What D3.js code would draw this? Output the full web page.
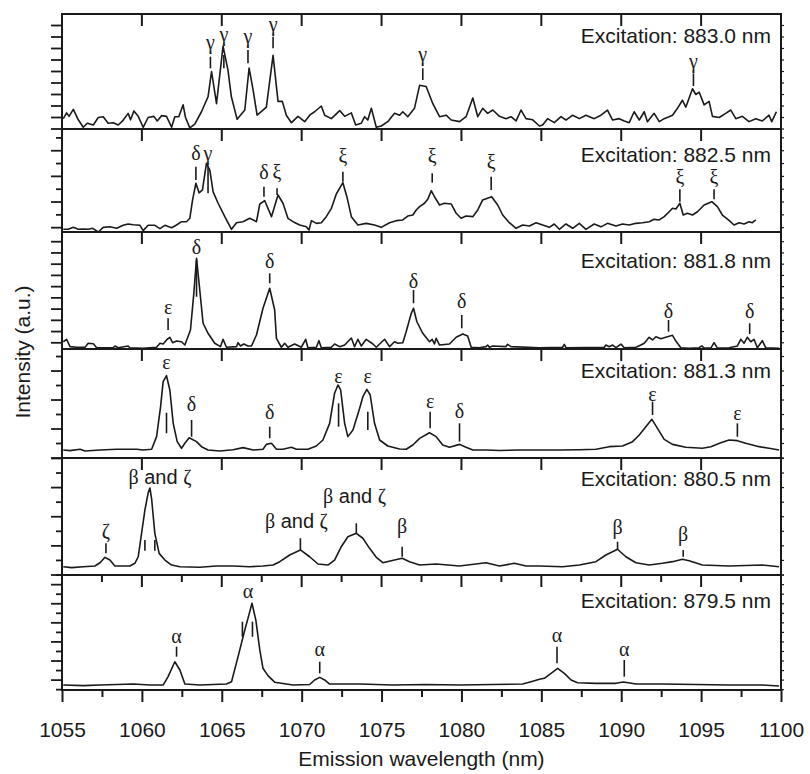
<!DOCTYPE html>
<html>
<head>
<meta charset="utf-8">
<script src="https://cdn.jsdelivr.net/npm/d3@7"></script>
<style>
  body { margin: 0; background: #fff; }
  svg { display: block; }
</style>
</head>
<body>
<div id="chart"></div>
<script>
// emission spectra, relative intensity (0-100 = panel height) vs wavelength (nm)
const excitations = ["883.0", "882.5", "881.8", "881.3", "880.5", "879.5"]

const spec883_0 = [[1055.08,9],[1055.29,14],[1055.44,11],[1055.71,17],[1056.02,8],[1056.33,1.5],[1056.58,5],[1056.96,3.5],[1057.27,10],[1057.58,10.7],[1057.89,5],[1058.21,5.5],[1058.52,3.5],[1058.79,7],[1059.14,13.6],[1059.29,8],[1059.5,15.7],[1059.77,11],[1060.08,1.5],[1060.39,10],[1060.75,11],[1060.96,7],[1061.23,11.6],[1061.54,11],[1061.86,1.5],[1062.06,10.7],[1062.31,10.7],[1062.58,21],[1062.73,10],[1063.0,1],[1063.31,4.3],[1063.73,15],[1064.14,28],[1064.36,50],[1064.67,22],[1065.08,72],[1065.39,51],[1065.6,28],[1065.96,8.4],[1066.44,16.5],[1066.71,53],[1066.96,34],[1067.21,12],[1067.58,16.5],[1067.79,19],[1068.21,64],[1068.52,24],[1068.79,24],[1069.04,12],[1069.36,5.5],[1069.77,11],[1070.19,6.4],[1070.5,12],[1070.81,15],[1071.23,20],[1071.44,12],[1071.86,9],[1072.38,16],[1072.69,11],[1073.11,14],[1073.38,3.5],[1073.73,5],[1073.94,10.7],[1074.14,7.8],[1074.36,18],[1074.67,1.5],[1074.98,2.6],[1075.39,6.4],[1075.81,13.6],[1076.13,12],[1076.33,15],[1076.64,10.7],[1077.06,18],[1077.38,38],[1077.79,37],[1078.21,22],[1078.63,10.7],[1079.04,12],[1079.36,7.8],[1079.88,6.4],[1080.29,10.7],[1080.71,27],[1081.02,10.7],[1081.33,18],[1081.64,13.6],[1081.96,16.5],[1082.38,11],[1082.79,9],[1083.1,10.7],[1083.42,7],[1083.73,16.5],[1084.04,9],[1084.46,8],[1084.88,2.6],[1085.08,3.5],[1085.39,9],[1085.81,5.5],[1086.23,10.7],[1086.54,7.8],[1086.96,12],[1087.38,9],[1087.79,12],[1088.31,9],[1088.73,12],[1089.14,16.5],[1089.46,7.8],[1089.88,9],[1090.19,7],[1090.5,5.5],[1090.81,15],[1091.13,7.8],[1091.44,15],[1091.64,6.4],[1092.06,13.6],[1092.38,6.4],[1092.69,9],[1093.0,10.7],[1093.21,12],[1093.52,18],[1093.83,25],[1094.04,19],[1094.25,27],[1094.46,35],[1094.67,30],[1094.88,32],[1095.19,21],[1095.5,24],[1095.71,11],[1096.13,10],[1096.54,13.6],[1096.86,16.5],[1097.17,9],[1097.58,11],[1098.0,6.4],[1098.42,9],[1098.83,7],[1099.25,12],[1099.42,6.4],[1099.71,15]]

const spec882_5 = [[1055.08,2.6],[1055.39,2.6],[1055.71,4.5],[1056.02,2.6],[1056.33,2.9],[1056.64,2.6],[1056.92,3.6],[1057.27,0],[1057.58,4.5],[1058.0,5.1],[1058.42,3.6],[1058.83,6.5],[1059.14,7.8],[1059.46,7.1],[1059.88,6.5],[1060.08,1.3],[1060.39,6.5],[1060.81,6.5],[1061.13,3.2],[1061.44,6.5],[1061.86,4.2],[1062.17,6.8],[1062.48,10],[1062.79,10],[1063.0,13.3],[1063.17,31],[1063.38,47.3],[1063.58,38],[1063.79,40.8],[1064.04,66.7],[1064.25,60.2],[1064.46,39],[1064.77,27.9],[1065.19,14.9],[1065.61,2.6],[1065.92,9],[1066.33,10],[1066.75,13.3],[1067.17,10],[1067.38,27.2],[1067.69,30.4],[1068.11,14.9],[1068.52,35.9],[1068.83,27.9],[1069.14,13.3],[1069.46,10],[1069.88,6.8],[1070.29,5.1],[1070.46,1.9],[1070.61,11],[1070.92,8.4],[1071.23,9],[1071.54,14.9],[1071.86,23],[1072.17,36.9],[1072.58,47.9],[1072.83,34.3],[1073.11,14.9],[1073.52,6.8],[1074.04,8.4],[1074.56,6.8],[1074.98,4.5],[1075.5,9],[1075.92,11],[1076.33,11.7],[1076.64,15.5],[1076.96,16.5],[1077.17,21.4],[1077.38,24.6],[1077.69,27.9],[1077.89,31.7],[1078.11,40.1],[1078.31,34.3],[1078.63,26.2],[1078.94,27.9],[1079.36,27.2],[1079.67,18.2],[1079.98,13.3],[1080.29,15.5],[1080.71,14.9],[1081.02,21.4],[1081.33,31.1],[1081.89,34.3],[1082.27,26.2],[1082.58,16.5],[1083.0,9],[1083.42,3.6],[1083.83,6.8],[1084.25,5.8],[1084.67,9],[1085.08,6.8],[1085.5,4.5],[1085.81,7.8],[1086.13,2.6],[1086.54,7.8],[1086.96,3.6],[1087.38,8.4],[1087.79,2.6],[1088.31,7.8],[1088.73,5],[1089.14,8.4],[1089.67,5.8],[1090.08,7.8],[1090.5,6.8],[1090.92,8.4],[1091.33,9],[1091.75,10],[1092.06,12.3],[1092.38,11.7],[1092.69,14.9],[1093.0,19.7],[1093.21,23],[1093.42,22.3],[1093.67,27.9],[1093.88,16.5],[1094.14,18.2],[1094.46,16.5],[1094.77,19.7],[1095.19,26.2],[1095.67,29.4],[1096.02,24.6],[1096.33,16.5],[1096.71,11.7],[1097.06,6.8],[1097.38,9],[1097.69,7.8],[1098.0,10],[1098.21,9],[1098.42,11.7]]

const spec881_8 = [[1055.08,6.2],[1055.29,8.3],[1055.5,2],[1055.92,1.5],[1056.44,1.5],[1056.64,4.9],[1056.96,4.5],[1057.17,1.1],[1058.21,1.1],[1058.31,2.6],[1058.52,1.1],[1059.14,2.6],[1059.25,1.1],[1060.08,0.6],[1060.92,1.5],[1061.13,4.9],[1061.33,4.3],[1061.54,7.7],[1061.75,10],[1061.92,5.4],[1062.17,6.8],[1062.48,6.2],[1062.69,3.4],[1063.04,16.2],[1063.25,47.6],[1063.42,77.5],[1063.58,56.2],[1063.83,22],[1064.14,13.4],[1064.56,4.9],[1064.92,2],[1065.08,8.3],[1065.29,1.5],[1065.92,2],[1066.02,5.4],[1066.17,2.6],[1066.38,4.3],[1066.64,2.6],[1066.86,2.6],[1067.17,12],[1067.58,34.8],[1068.0,51.9],[1068.31,33.3],[1068.42,9.1],[1068.73,1.5],[1068.94,4.9],[1069.14,1.5],[1069.56,4.3],[1069.98,1.5],[1070.25,8.3],[1070.39,1.1],[1070.92,1.5],[1071.08,7.1],[1071.23,1.1],[1071.86,1.5],[1072.06,4.3],[1072.38,2],[1072.69,3.4],[1073.11,9.4],[1073.31,2],[1073.52,8.3],[1073.73,2.6],[1074.04,8.3],[1074.46,4.3],[1074.67,1.5],[1075.19,8.3],[1075.5,2],[1075.81,6.2],[1076.02,4.9],[1076.33,5.4],[1076.54,14.8],[1076.86,30.5],[1077.0,34.8],[1077.21,23.3],[1077.58,13.4],[1078.0,6.2],[1078.17,8.3],[1078.31,4.3],[1078.42,9.1],[1078.63,3.4],[1079.25,4.3],[1079.67,10],[1080.08,12.8],[1080.39,11.1],[1080.61,1.5],[1081.13,1.1],[1081.54,2],[1081.64,3.4],[1081.75,1.5],[1081.96,2.6],[1082.79,2],[1082.89,4],[1083.1,2],[1084.88,1.1],[1086.33,1.5],[1086.44,4],[1086.54,1.1],[1088.94,1.5],[1089.04,3.4],[1089.25,2],[1089.46,3.4],[1089.67,1.1],[1089.98,4.2],[1090.19,1.1],[1090.92,1.5],[1091.23,3.4],[1091.44,4.9],[1091.75,10],[1091.96,7.7],[1092.17,10.5],[1092.48,8.8],[1092.79,10],[1093.21,11.7],[1093.42,6.8],[1093.73,1.1],[1094.25,0.6],[1094.88,1.1],[1095.04,2.6],[1095.19,0.8],[1095.61,0.8],[1095.81,5.4],[1096.02,0.8],[1096.75,1.1],[1097.06,2],[1097.27,2.6],[1097.48,8.3],[1097.69,5],[1097.89,10],[1098.11,6.2],[1098.31,8.3],[1098.52,1.1],[1098.83,7.1],[1099.04,1.1],[1099.88,0.5]]

const spec881_3 = [[1055.08,7.3],[1055.5,6.8],[1056.13,8],[1056.44,6.4],[1057.38,7.3],[1058.42,8],[1059.67,8],[1060.08,7.3],[1060.61,8],[1060.92,19.6],[1061.17,47.1],[1061.33,70],[1061.54,75.5],[1061.75,62.4],[1061.96,31.8],[1062.21,15],[1062.48,8.9],[1062.69,13.5],[1062.96,18.6],[1063.42,15],[1063.73,10.4],[1064.14,7.3],[1064.88,6.4],[1065.71,7.6],[1066.33,9.5],[1066.96,7.3],[1067.58,8],[1067.79,12.5],[1068.11,13.5],[1068.42,8],[1068.83,8],[1069.36,9.8],[1069.67,8],[1070.39,8],[1070.92,11],[1071.33,16.5],[1071.75,31.8],[1072.06,59.4],[1072.27,67],[1072.44,62.4],[1072.69,31.8],[1072.89,19.6],[1073.21,25.7],[1073.63,45.6],[1073.83,56.2],[1074.08,63],[1074.29,57.8],[1074.56,31.8],[1074.88,16.5],[1075.39,11],[1076.13,8.3],[1076.54,8],[1076.96,11.9],[1077.38,18],[1078.0,23.2],[1078.42,19.6],[1078.83,11.9],[1079.25,9.8],[1079.88,12.5],[1080.29,9.8],[1080.71,7.3],[1081.54,7.3],[1082.38,6.9],[1083.63,7.3],[1084.88,7.3],[1086.13,7.3],[1087.38,7.6],[1088.42,8],[1089.25,10.4],[1090.08,11],[1090.71,15],[1091.13,21.1],[1091.54,28.7],[1091.92,35.5],[1092.27,27.2],[1092.69,17.1],[1093.21,12.5],[1094.04,9.8],[1095.08,8.9],[1095.61,10.4],[1096.23,14],[1096.75,16.5],[1097.27,15.9],[1097.79,13.5],[1098.63,10.4],[1099.25,8.9],[1099.88,7.3]]

const spec880_5 = [[1055.08,7.1],[1055.61,6.3],[1056.33,7.1],[1057.06,7.7],[1057.38,10.5],[1057.69,15.1],[1058.0,12.8],[1058.31,7.7],[1059.25,7.7],[1059.56,10],[1059.77,15.6],[1059.98,35.6],[1060.19,55.6],[1060.39,70],[1060.5,74.4],[1060.61,65],[1060.81,35.6],[1061.08,18.5],[1061.44,12.8],[1061.86,8.5],[1062.38,7.1],[1063.63,6.6],[1064.67,7.7],[1065.71,7.7],[1066.75,7.1],[1067.58,7.7],[1068.21,8.5],[1068.63,11.4],[1069.25,17.1],[1069.92,21.4],[1070.5,15.6],[1071.02,9.4],[1071.64,8.5],[1072.06,12.8],[1072.48,24.2],[1072.89,32.7],[1073.42,35.6],[1073.83,31.4],[1074.25,22.8],[1074.67,15.1],[1075.08,10.5],[1075.61,12.2],[1076.29,14.3],[1076.75,11.4],[1077.38,8.5],[1078.42,9.4],[1079.88,7.7],[1081.54,10.5],[1082.38,7.7],[1083.31,10],[1084.04,7.7],[1084.88,7.7],[1086.33,7.1],[1087.38,8.5],[1088.42,11.4],[1089.04,17.1],[1089.77,22],[1090.29,15.6],[1090.92,10.5],[1091.75,8.5],[1092.58,10],[1093.21,11.4],[1093.83,13.4],[1094.25,12.2],[1095.08,8.5],[1096.75,7.7],[1098.83,8.5],[1099.88,7.1]]

const spec879_5 = [[1055.08,4.3],[1056.33,3.8],[1057.38,4.3],[1059.46,5.2],[1060.5,4.3],[1061.33,4.3],[1061.64,11.6],[1062.06,24.6],[1062.38,17.4],[1062.69,5.2],[1063.63,4.3],[1065.29,5.2],[1065.61,7.2],[1066.02,29],[1066.44,52.2],[1066.64,62.3],[1066.89,75.4],[1067.13,60.9],[1067.38,34.8],[1067.58,18.9],[1067.89,12.5],[1068.31,6.8],[1069.46,4.3],[1070.5,4.8],[1070.81,8.7],[1071.13,11],[1071.44,8.7],[1071.75,5.2],[1073.63,5.2],[1075.71,4.3],[1077.79,4.8],[1079.88,4.3],[1081.96,4.8],[1083.83,5.2],[1084.36,7.2],[1084.88,9.3],[1085.19,10.2],[1085.61,14.5],[1086.02,18.9],[1086.44,14.5],[1086.86,8.7],[1087.27,6.3],[1088.42,5.8],[1089.67,5.8],[1090.14,7],[1090.92,5.2],[1092.58,5.2],[1094.67,4.8],[1096.75,4.3],[1098.83,4.3],[1099.88,3.5]]

// site labels: [wavelength, intensity of label centre, text]
const tags883_0 = [[1064.29,74.8,"γ"],[1065.13,81.7,"γ"],[1066.64,80.3,"γ"],[1068.21,90.4,"γ"],[1077.58,64.3,"γ"],[1094.52,58.5,"γ"]]
const tags882_5 = [[1063.38,75.7,"δ"],[1064.14,75.7,"γ"],[1067.64,57,"δ"],[1068.46,57,"ξ"],[1072.58,73.1,"ξ"],[1078.17,73.1,"ξ"],[1081.86,66.7,"ξ"],[1093.67,52.4,"ξ"],[1095.81,52.4,"ξ"]]
const tags881_8 = [[1061.64,34.8,"ε"],[1063.42,86.1,"δ"],[1068.0,74.6,"δ"],[1077.0,57.5,"δ"],[1080.02,40.4,"δ"],[1092.96,31.9,"δ"],[1098.04,31.9,"δ"]]
const tags881_3 = [[1061.54,87.4,"ε"],[1063.11,48.6,"δ"],[1068.0,41,"δ"],[1072.31,74.6,"ε"],[1074.14,74.6,"ε"],[1078.04,51.7,"ε"],[1079.88,42.5,"δ"],[1091.96,57.8,"ε"],[1097.27,40.4,"ε"]]
const tags880_5 = [[1057.75,37,"ζ"],[1061.13,82.6,"β and ζ"],[1069.67,45.6,"β and ζ"],[1073.31,66.9,"β and ζ"],[1076.29,41.3,"β"],[1089.77,39.9,"β"],[1093.88,34.2,"β"]]
const tags879_5 = [[1062.17,46.3,"α"],[1066.64,85.5,"α"],[1071.13,34.8,"α"],[1085.98,47,"α"],[1090.19,34.8,"α"]]

// label ticks: [wavelength, lower intensity, upper intensity]
const marks883_0 = [[1064.29,52.8,62.9],[1065.13,52.8,64.3],[1066.64,57.1,68.7],[1068.21,70.2,80.3],[1077.58,42.6,52.8],[1094.52,37.4,48.4]]
const marks882_5 = [[1063.38,50.5,63.4],[1064.14,37.6,64.4],[1067.64,34.3,44],[1068.46,35.9,42.4],[1072.58,48.8,58.5],[1078.17,47.9,57],[1081.86,40.8,53.7],[1093.67,29.4,41.5],[1095.81,31.7,41.5]]
const marks881_8 = [[1061.64,16.2,26.2],[1063.42,44.7,76.1],[1068.0,56.2,64.7],[1077.0,39.1,50.4],[1080.02,17.7,29.1],[1092.96,14.8,24.8],[1098.04,12.8,22]]
const marks881_3 = [[1061.54,22.7,41.6],[1063.11,19.5,34.9],[1068.0,18.1,28.7],[1072.31,28.7,50.2],[1074.14,25.7,42.5],[1078.04,27.2,42.5],[1079.88,15,31.8],[1091.96,39.4,51.7],[1097.27,19.5,31.8]]
const marks880_5 = [[1057.75,18.5,27.1],[1060.19,20.8,29.9],[1060.81,20.8,29.9],[1069.92,21.4,31.4],[1073.42,35.6,44.2],[1076.29,15.6,24.2],[1089.77,21.4,28.5],[1093.88,15.6,21.4]]
const marks879_5 = [[1062.17,29,37.7],[1066.29,46.3,59.4],[1066.92,46.3,59.4],[1071.13,14.5,24.6],[1085.98,23.2,37.7],[1090.19,11.6,26.1]]

const xTicks = d3.range(1055, 1101, 5)
const xMinor = d3.range(1057.5, 1100, 5)

const spectra = [spec883_0, spec882_5, spec881_8, spec881_3, spec880_5, spec879_5]
const tags = [tags883_0, tags882_5, tags881_8, tags881_3, tags880_5, tags879_5]
const marks = [marks883_0, marks882_5, marks881_8, marks881_3, marks880_5, marks879_5]

// layout
const width = 810, height = 774
const left = 62, right = 781
const edges = [14, 129, 232, 349, 458, 575, 690]
const labelDrop = [29, 33, 36, 29, 28, 33]
// y tick layout per panel: start, step, which ticks are long
const yTickCfg = [
  {start: 0, step: 10, long: i => true},
  {start: 4.2, step: 12.45, long: i => i % 2 == 0},
  {start: 5.3, step: 9.6, long: i => true},
  {start: 0, step: 13.3, long: i => i % 2 == 0},
  {start: 0, step: 12.45, long: i => i % 2 == 0},
  {start: 0.3, step: 8.3, long: i => i % 2 == 1}
]

const ink = "#1a1a1a"
const sans = "'Liberation Sans', Arial, sans-serif"
const serif = "'Liberation Serif', 'Times New Roman', serif"

const svg = d3.select("#chart")
  .append("svg")
  .attr("width", width)
  .attr("height", height)

const x = d3.scaleLinear().domain([1055, 1100]).range([left, right])

spectra.forEach(function(spec, p) {
  const top = edges[p], bottom = edges[p + 1]
  const y = d3.scaleLinear().domain([0, 100]).range([bottom, top])
  const g = svg.append("g")

  // left ticks (outward)
  const cfg = yTickCfg[p]
  const vals = d3.range(cfg.start, 100, cfg.step)
  g.selectAll("line.yt")
    .data(vals)
    .join("line")
      .attr("class", "yt")
      .attr("x1", left)
      .attr("x2", (d, i) => left - (cfg.long(i) ? 11 : 6))
      .attr("y1", d => y(d))
      .attr("y2", d => y(d))
      .attr("stroke", ink)
      .attr("stroke-width", 1.8)
  // right ticks, tiny
  g.selectAll("line.yr")
    .data(vals)
    .join("line")
      .attr("class", "yr")
      .attr("x1", right)
      .attr("x2", right + 3)
      .attr("y1", d => y(d))
      .attr("y2", d => y(d))
      .attr("stroke", ink)
      .attr("stroke-width", 1.2)

  // x ticks on the top edge, pointing in
  const topTicks = p == 5 ? xTicks.concat(xMinor) : xTicks
  g.selectAll("line.xt")
    .data(topTicks)
    .join("line")
      .attr("class", "xt")
      .attr("x1", d => x(d))
      .attr("x2", d => x(d))
      .attr("y1", top)
      .attr("y2", d => top + (d % 5 == 0 ? 12 : 7))
      .attr("stroke", ink)
      .attr("stroke-width", 2)

  // spectrum
  const line = d3.line()
    .x(d => x(d[0]))
    .y(d => y(d[1]))
  g.append("path")
    .datum(spec)
    .attr("d", line)
    .attr("fill", "none")
    .attr("stroke", ink)
    .attr("stroke-width", 1.6)
    .attr("stroke-linejoin", "round")

  // label ticks
  g.selectAll("line.mk")
    .data(marks[p])
    .join("line")
      .attr("class", "mk")
      .attr("x1", d => x(d[0]))
      .attr("x2", d => x(d[0]))
      .attr("y1", d => y(d[1]))
      .attr("y2", d => y(d[2]))
      .attr("stroke", ink)
      .attr("stroke-width", 1.6)

  // greek labels
  const t = g.selectAll("text.tag")
    .data(tags[p])
    .join("text")
      .attr("class", "tag")
      .attr("x", d => x(d[0]))
      .attr("y", d => y(d[1]))
      .attr("dy", "0.3em")
      .attr("text-anchor", "middle")
      .attr("fill", ink)
      .style("font-family", serif)
      .style("font-size", "20px")
  t.each(function(d) {
    const el = d3.select(this)
    if (d[2].indexOf(" and ") > 0) {
      const parts = d[2].split(" and ")
      el.append("tspan").text(parts[0])
      el.append("tspan").style("font-family", sans).text(" and ")
      el.append("tspan").text(parts[1])
    } else {
      el.text(d[2])
    }
  })

  // excitation label
  g.append("text")
    .attr("x", 771)
    .attr("y", top + labelDrop[p])
    .attr("text-anchor", "end")
    .attr("fill", ink)
    .style("font-family", sans)
    .style("font-size", "21px")
    .text("Excitation: " + excitations[p] + " nm")

  // frame
  g.append("rect")
    .attr("x", left)
    .attr("y", top)
    .attr("width", right - left)
    .attr("height", bottom - top)
    .attr("fill", "none")
    .attr("stroke", ink)
    .attr("stroke-width", 2)
})

// bottom axis
const bottom = edges[6]
svg.append("g")
  .attr("transform", `translate(0,${bottom})`)
  .call(d3.axisBottom(x).tickValues(xMinor).tickSize(7).tickFormat(""))
  .call(g => g.select(".domain").remove())
  .call(g => g.selectAll("line").attr("stroke", ink).attr("stroke-width", 2))

svg.append("g")
  .attr("transform", `translate(0,${bottom})`)
  .call(d3.axisBottom(x).tickValues(xTicks).tickSize(12).tickPadding(20).tickFormat(d3.format("d")))
  .call(g => g.select(".domain").remove())
  .call(g => g.selectAll("line").attr("stroke", ink).attr("stroke-width", 2))
  .call(g => g.selectAll("text")
    .attr("fill", ink)
    .style("font-family", sans)
    .style("font-size", "21px"))

svg.append("text")
  .attr("x", (left + right) / 2)
  .attr("y", 766)
  .attr("text-anchor", "middle")
  .attr("fill", ink)
  .style("font-family", sans)
  .style("font-size", "21px")
  .text("Emission wavelength (nm)")

svg.append("text")
  .attr("transform", `translate(30,${(edges[0] + edges[6]) / 2}) rotate(-90)`)
  .attr("text-anchor", "middle")
  .attr("fill", ink)
  .style("font-family", sans)
  .style("font-size", "21px")
  .text("Intensity (a.u.)")
</script>
</body>
</html>
